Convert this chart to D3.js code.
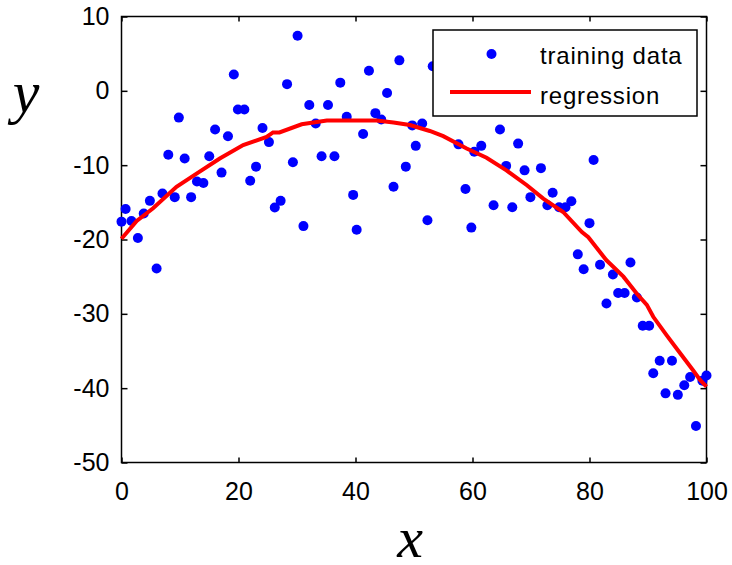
<!DOCTYPE html>
<html lang="en">
<head>
    <meta charset="UTF-8">
    <title>Regression fit</title>
    <script src="https://d3js.org/d3.v7.min.js"></script>
    <style>
        body {
            margin: 0;
            padding: 0;
            background-color: #fff;
        }
        .tick text {
            font-family: "Liberation Sans", Arial, sans-serif;
            font-size: 25px;
            fill: #000;
        }
        .axis path { display: none; }
        .axis line { stroke: #000; stroke-width: 1.5; }
        .reg-line {
            fill: none;
            stroke: #ff0000;
            stroke-width: 4;
        }
    </style>
</head>
<body>
<div id="chart"></div>
<script>
    // training data
    const dataX = [0, 0.7, 1.7, 2.8, 3.8, 4.85, 6.0, 7.0, 8.0, 9.1, 9.8, 10.8, 11.9, 12.9, 14.0, 15.0, 16.0, 17.1, 18.2, 19.2,
        19.9, 21.0, 22.0, 23.0, 24.1, 25.2, 26.2, 27.2, 28.3, 29.3, 30.1, 31.1, 32.1, 33.2, 34.2, 35.3, 36.4, 37.4, 38.5, 39.6,
        40.2, 41.3, 42.3, 43.4, 44.4, 45.4, 46.5, 47.5, 48.6, 49.7, 50.3, 51.4, 52.3, 53.2, 57.6, 58.8, 59.8, 60.3, 61.5, 63.6,
        64.7, 65.75, 66.8, 67.8, 68.9, 69.9, 71.7, 72.8, 73.7, 74.8, 75.9, 76.9, 78.0, 79.0, 80.0, 80.7, 81.8, 82.9, 84.0, 84.9,
        86.0, 87.0, 88.1, 89.1, 90.2, 90.9, 92.0, 93.0, 94.1, 95.1, 96.2, 97.2, 98.2, 99.3, 100];
    const dataY = [-17.6, -15.9, -17.5, -19.8, -16.5, -14.8, -23.9, -13.8, -8.6, -14.3, -3.6, -9.1, -14.3, -12.2, -12.4, -8.8, -5.2, -11.0, -6.1, 2.2,
        -2.5, -2.5, -12.1, -10.2, -5.0, -6.9, -15.7, -14.8, 0.9, -9.6, 7.4, -18.2, -1.9, -4.4, -8.8, -1.9, -8.8, 1.1, -3.5, -14.0,
        -18.7, -5.8, 2.7, -3.0, -3.85, -0.3, -12.9, 4.1, -10.2, -4.65, -7.4, -4.4, -17.4, 3.3, -7.2, -13.2, -18.4, -8.2, -7.4, -15.4,
        -5.2, -10.1, -15.65, -7.1, -10.7, -14.3, -10.4, -15.4, -13.7, -15.65, -15.65, -14.85, -22.0, -24.0, -17.8, -9.3, -23.4, -28.6, -24.7, -27.2,
        -27.2, -23.1, -27.8, -31.6, -31.6, -38.0, -36.3, -40.7, -36.3, -40.9, -39.6, -38.5, -45.1, -39.0, -38.3];

    // regression curve
    const regX = [0, 2.6, 5.4, 9.4, 12.9, 16.8, 20.8, 24.8, 25.9, 27, 30.8, 32.8, 35.1, 43.6, 46.5, 49.3, 52.7, 55, 59, 62.4,
        65.8, 69.3, 72.1, 75.5, 78.7, 79.8, 82.9, 85.8, 88.1, 89.8, 90.9, 93.2, 95.5, 97.7, 98.9, 100];
    const regY = [-19.9, -17.5, -15.8, -12.9, -11.1, -9.1, -7.3, -6.2, -5.6, -5.6, -4.5, -4.25, -4.0, -4.0, -4.25, -4.6, -5.4, -6.1, -7.75, -9.0,
        -10.7, -12.7, -14.5, -16.3, -19.0, -19.7, -22.8, -25.0, -27.3, -28.8, -30.4, -32.9, -35.3, -37.6, -38.9, -39.8];

    const xTicks = [0, 20, 40, 60, 80, 100];
    const yTicks = [-50, -40, -30, -20, -10, 0, 10];
    const legendLabels = ["training data", "regression"];

    const width = 732, height = 565;
    const plot = {left: 121.5, right: 706.5, top: 16.5, bottom: 462.5};

    const svg = d3.select("#chart").append("svg")
        .attr("width", width)
        .attr("height", height);

    const x = d3.scaleLinear().domain([0, 100]).range([plot.left, plot.right]);
    const y = d3.scaleLinear().domain([-50, 10]).range([plot.bottom, plot.top]);

    const fmt = d => String(d); // plain hyphen like MATLAB

    // inward ticks on all four sides
    svg.append("g").attr("class", "axis")
        .attr("transform", `translate(0,${plot.bottom})`)
        .call(d3.axisBottom(x).tickValues(xTicks).tickSize(-5).tickPadding(20).tickFormat(fmt))
        .selectAll("text").attr("dy", "0.71em");
    svg.append("g").attr("class", "axis")
        .attr("transform", `translate(0,${plot.top})`)
        .call(d3.axisTop(x).tickValues(xTicks).tickSize(-5).tickFormat(""));
    svg.append("g").attr("class", "axis")
        .attr("transform", `translate(${plot.left},0)`)
        .call(d3.axisLeft(y).tickValues(yTicks).tickSize(-6).tickPadding(12).tickFormat(fmt));
    svg.append("g").attr("class", "axis")
        .attr("transform", `translate(${plot.right},0)`)
        .call(d3.axisRight(y).tickValues(yTicks).tickSize(-6).tickFormat(""));

    // box
    svg.append("rect")
        .attr("x", plot.left).attr("y", plot.top)
        .attr("width", plot.right - plot.left).attr("height", plot.bottom - plot.top)
        .attr("fill", "none").attr("stroke", "#000").attr("stroke-width", 1.5);

    // points
    svg.append("g").selectAll("circle")
        .data(dataX.map((d, i) => [d, dataY[i]]))
        .join("circle")
        .attr("cx", d => x(d[0]))
        .attr("cy", d => y(d[1]))
        .attr("r", 5)
        .attr("fill", "#0000ff");

    const line = d3.line().x(d => x(d[0])).y(d => y(d[1]));
    svg.append("path")
        .datum(regX.map((d, i) => [d, regY[i]]))
        .attr("class", "reg-line")
        .attr("d", line);

    // legend
    const lg = svg.append("g");
    lg.append("rect")
        .attr("x", 433).attr("y", 30).attr("width", 264).attr("height", 86)
        .attr("fill", "#fff").attr("stroke", "#000").attr("stroke-width", 1.5);
    lg.append("circle").attr("cx", 491.5).attr("cy", 54).attr("r", 5).attr("fill", "#0000ff");
    lg.append("line").attr("x1", 450).attr("x2", 531).attr("y1", 92).attr("y2", 92)
        .attr("stroke", "#ff0000").attr("stroke-width", 4);
    lg.selectAll("text").data(legendLabels).join("text")
        .attr("x", 540)
        .attr("y", (d, i) => 64 + i * 40)
        .attr("font-family", "Liberation Sans, Arial, sans-serif")
        .attr("font-size", 24)
        .attr("letter-spacing", 0.8)
        .attr("fill", "#000")
        .text(d => d);

    // axis labels
    svg.append("text")
        .attr("x", 410).attr("y", 557)
        .attr("text-anchor", "middle")
        .attr("font-family", "Liberation Serif, Times New Roman, serif")
        .attr("font-style", "italic")
        .attr("font-size", 58)
        .text("x");
    svg.append("text")
        .attr("x", 26).attr("y", 112)
        .attr("text-anchor", "middle")
        .attr("font-family", "Liberation Serif, Times New Roman, serif")
        .attr("font-style", "italic")
        .attr("font-size", 60)
        .text("y");
</script>
</body>
</html>
